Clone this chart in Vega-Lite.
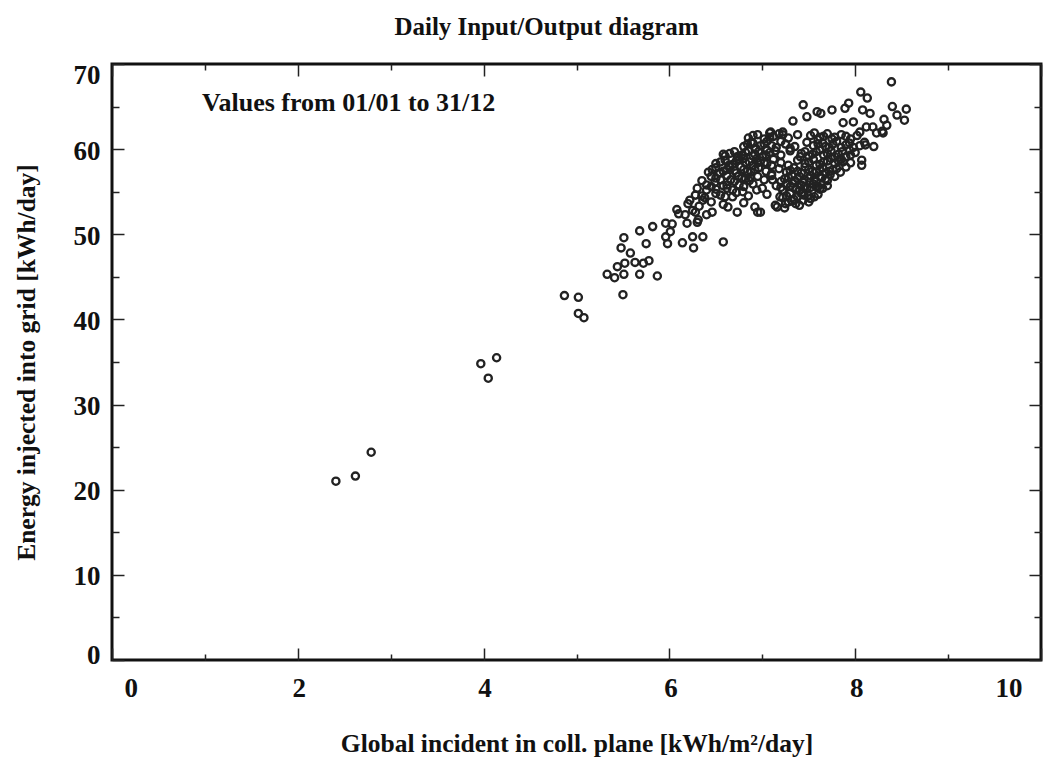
{
"$schema": "https://vega.github.io/schema/vega-lite/v6.json",
"width": 929, "height": 596,
"autosize": {"type": "none"},
"padding": {"left": 112, "top": 64, "right": 14, "bottom": 100},
"background": "white",
"title": {"text": "Daily Input/Output diagram", "font": "Liberation Serif", "fontSize": 25, "fontWeight": "bold", "color": "#111", "anchor": "middle", "dx": -30, "offset": 21},
"config": {
  "view": {"stroke": "#111", "strokeWidth": 3},
  "axis": {"domain": false, "grid": false, "labelFont": "Liberation Serif", "labelFontWeight": "bold", "labelFontSize": 27, "labelColor": "#111", "titleFont": "Liberation Serif", "titleFontWeight": "bold", "titleFontSize": 25.5, "titleColor": "#111", "tickColor": "#222", "tickWidth": 1.5}
},
"data": {"values": [
{"global":2.41,"energy":21.0},{"global":2.62,"energy":21.6},{"global":2.79,"energy":24.4},{"global":3.97,"energy":34.8},{"global":4.05,"energy":33.1},{"global":4.14,"energy":35.5},{"global":4.87,"energy":42.8},{"global":5.02,"energy":42.6},{"global":5.02,"energy":40.7},{"global":5.08,"energy":40.2},
{"global":5.50,"energy":42.9},{"global":5.33,"energy":45.3},{"global":5.41,"energy":44.9},{"global":5.44,"energy":46.2},{"global":5.51,"energy":45.3},{"global":5.52,"energy":46.6},{"global":5.68,"energy":45.3},{"global":5.87,"energy":45.1},{"global":5.63,"energy":46.7},{"global":5.72,"energy":46.6},
{"global":5.78,"energy":46.9},{"global":5.48,"energy":48.4},{"global":5.58,"energy":47.8},{"global":5.51,"energy":49.6},{"global":5.68,"energy":50.4},{"global":5.75,"energy":48.9},{"global":5.82,"energy":50.9},{"global":5.96,"energy":51.3},{"global":6.03,"energy":51.2},{"global":6.01,"energy":50.3},
{"global":5.96,"energy":49.7},{"global":5.98,"energy":48.9},{"global":6.08,"energy":52.9},{"global":6.17,"energy":52.3},{"global":6.19,"energy":51.3},{"global":6.30,"energy":51.4},{"global":6.28,"energy":52.6},{"global":6.14,"energy":49.0},{"global":6.25,"energy":49.7},{"global":6.26,"energy":48.4},
{"global":6.36,"energy":49.7},{"global":6.58,"energy":49.1},{"global":6.58,"energy":59.4},{"global":6.22,"energy":54.0},{"global":6.31,"energy":51.7},{"global":6.36,"energy":54.0},{"global":6.40,"energy":55.2},{"global":6.46,"energy":52.6},{"global":6.49,"energy":56.1},{"global":6.54,"energy":57.2},
{"global":6.62,"energy":55.8},{"global":6.63,"energy":53.2},{"global":6.73,"energy":52.6},{"global":6.68,"energy":54.4},{"global":6.73,"energy":59.1},{"global":6.79,"energy":55.0},{"global":6.87,"energy":56.7},{"global":6.92,"energy":53.2},{"global":6.95,"energy":52.6},{"global":6.94,"energy":55.2},
{"global":6.95,"energy":58.4},{"global":6.90,"energy":60.7},{"global":7.05,"energy":59.9},{"global":7.08,"energy":61.9},{"global":7.11,"energy":56.4},{"global":7.14,"energy":53.4},{"global":6.98,"energy":52.6},{"global":7.16,"energy":53.2},{"global":7.24,"energy":53.1},{"global":7.60,"energy":55.6},
{"global":7.73,"energy":57.0},{"global":7.84,"energy":57.3},{"global":7.87,"energy":58.5},{"global":8.07,"energy":58.7},{"global":8.07,"energy":58.1},{"global":8.11,"energy":60.5},{"global":7.94,"energy":59.9},{"global":8.23,"energy":61.9},{"global":8.30,"energy":61.9},{"global":7.62,"energy":61.4},
{"global":7.41,"energy":59.1},{"global":7.33,"energy":56.0},{"global":7.44,"energy":54.9},{"global":7.19,"energy":54.4},{"global":8.39,"energy":67.9},{"global":8.06,"energy":66.7},{"global":8.13,"energy":66.0},{"global":7.44,"energy":65.2},{"global":7.48,"energy":63.8},{"global":7.33,"energy":63.3},
{"global":7.63,"energy":64.2},{"global":7.75,"energy":64.6},{"global":7.89,"energy":64.8},{"global":7.93,"energy":65.4},{"global":8.08,"energy":64.6},{"global":8.16,"energy":64.2},{"global":8.40,"energy":65.0},{"global":8.55,"energy":64.7},{"global":8.45,"energy":64.0},{"global":8.53,"energy":63.4},
{"global":8.31,"energy":63.5},{"global":8.34,"energy":62.8},{"global":8.29,"energy":62.1},{"global":8.19,"energy":62.6},{"global":8.12,"energy":62.6},{"global":8.05,"energy":62.0},{"global":7.87,"energy":63.1},{"global":7.98,"energy":63.2},{"global":7.59,"energy":64.4},{"global":7.09,"energy":62.0},
{"global":7.22,"energy":62.0},{"global":7.38,"energy":61.7},
{"global":6.85,"energy":61.3},{"global":6.95,"energy":61.7},{"global":7.02,"energy":61.2},{"global":7.12,"energy":61.5},{"global":7.18,"energy":61.8},{"global":7.28,"energy":61.3},{"global":7.52,"energy":61.6},{"global":7.60,"energy":61.1},{"global":7.70,"energy":61.8},{"global":7.78,"energy":61.4},{"global":7.85,"energy":61.7},{"global":7.95,"energy":61.2},{"global":8.02,"energy":61.6},
{"global":6.80,"energy":60.3},{"global":6.88,"energy":60.8},{"global":6.98,"energy":60.4},{"global":7.05,"energy":60.9},{"global":7.15,"energy":60.2},{"global":7.25,"energy":60.6},{"global":7.35,"energy":60.3},{"global":7.48,"energy":60.8},{"global":7.55,"energy":60.4},{"global":7.65,"energy":60.7},{"global":7.72,"energy":60.2},{"global":7.80,"energy":60.9},{"global":7.90,"energy":60.5},{"global":7.98,"energy":60.2},{"global":8.10,"energy":60.8},{"global":8.20,"energy":60.3},
{"global":6.60,"energy":59.2},{"global":6.70,"energy":59.7},{"global":6.78,"energy":59.3},{"global":6.85,"energy":59.8},{"global":6.92,"energy":59.4},{"global":7.00,"energy":59.1},{"global":7.08,"energy":59.6},{"global":7.20,"energy":59.3},{"global":7.30,"energy":59.8},{"global":7.42,"energy":59.5},{"global":7.50,"energy":59.2},{"global":7.58,"energy":59.7},{"global":7.66,"energy":59.3},{"global":7.74,"energy":59.8},{"global":7.82,"energy":59.4},{"global":7.90,"energy":59.1},{"global":8.00,"energy":59.6},
{"global":6.50,"energy":58.3},{"global":6.60,"energy":58.7},{"global":6.68,"energy":58.2},{"global":6.75,"energy":58.8},{"global":6.82,"energy":58.4},{"global":6.90,"energy":58.1},{"global":6.98,"energy":58.6},{"global":7.05,"energy":58.3},{"global":7.12,"energy":58.8},{"global":7.20,"energy":58.4},{"global":7.28,"energy":58.1},{"global":7.38,"energy":58.7},{"global":7.46,"energy":58.3},{"global":7.55,"energy":58.8},{"global":7.62,"energy":58.2},{"global":7.70,"energy":58.6},{"global":7.78,"energy":58.3},{"global":7.85,"energy":58.8},{"global":7.95,"energy":58.4},
{"global":6.42,"energy":57.3},{"global":6.50,"energy":57.8},{"global":6.58,"energy":57.4},{"global":6.65,"energy":57.9},{"global":6.72,"energy":57.2},{"global":6.80,"energy":57.6},{"global":6.88,"energy":57.3},{"global":6.96,"energy":57.8},{"global":7.04,"energy":57.4},{"global":7.10,"energy":57.1},{"global":7.18,"energy":57.7},{"global":7.26,"energy":57.3},{"global":7.34,"energy":57.8},{"global":7.42,"energy":57.2},{"global":7.50,"energy":57.6},{"global":7.58,"energy":57.3},{"global":7.65,"energy":57.8},{"global":7.72,"energy":57.4},{"global":7.80,"energy":57.7},{"global":7.90,"energy":57.9},
{"global":6.35,"energy":56.3},{"global":6.45,"energy":56.8},{"global":6.55,"energy":56.4},{"global":6.62,"energy":56.9},{"global":6.70,"energy":56.2},{"global":6.78,"energy":56.6},{"global":6.86,"energy":56.3},{"global":6.95,"energy":56.8},{"global":7.02,"energy":56.4},{"global":7.10,"energy":56.9},{"global":7.20,"energy":56.2},{"global":7.28,"energy":56.7},{"global":7.35,"energy":56.3},{"global":7.40,"energy":56.8},{"global":7.45,"energy":56.4},{"global":7.52,"energy":56.9},{"global":7.58,"energy":56.2},{"global":7.64,"energy":56.6},{"global":7.70,"energy":56.3},{"global":7.78,"energy":56.8},
{"global":6.30,"energy":55.4},{"global":6.40,"energy":55.8},{"global":6.50,"energy":55.3},{"global":6.58,"energy":55.7},{"global":6.68,"energy":55.2},{"global":6.80,"energy":55.6},{"global":6.90,"energy":55.9},{"global":7.00,"energy":55.4},{"global":7.15,"energy":55.7},{"global":7.22,"energy":55.2},{"global":7.30,"energy":55.6},{"global":7.36,"energy":55.3},{"global":7.42,"energy":55.8},{"global":7.48,"energy":55.4},{"global":7.55,"energy":55.9},{"global":7.62,"energy":55.3},{"global":7.70,"energy":55.7},
{"global":6.28,"energy":54.6},{"global":6.38,"energy":54.3},{"global":6.50,"energy":54.8},{"global":6.60,"energy":54.4},{"global":6.72,"energy":54.9},{"global":6.85,"energy":54.5},{"global":7.05,"energy":54.7},{"global":7.22,"energy":54.3},{"global":7.30,"energy":54.8},{"global":7.38,"energy":54.4},{"global":7.45,"energy":54.6},{"global":7.52,"energy":54.2},{"global":7.60,"energy":54.7},
{"global":6.20,"energy":53.6},{"global":6.32,"energy":53.3},{"global":6.45,"energy":53.8},{"global":6.58,"energy":53.5},{"global":6.80,"energy":53.7},{"global":7.25,"energy":53.6},{"global":7.32,"energy":53.9},{"global":7.40,"energy":53.4},{"global":7.50,"energy":53.8},
{"global":6.10,"energy":52.4},{"global":6.25,"energy":52.8},{"global":6.40,"energy":52.3},
{"global":6.90,"energy":61.6},{"global":7.08,"energy":61.4},{"global":7.22,"energy":61.7},{"global":7.56,"energy":61.9},{"global":7.66,"energy":61.5},{"global":7.75,"energy":61.2},{"global":7.90,"energy":61.5},
{"global":6.84,"energy":60.6},{"global":6.93,"energy":60.1},{"global":7.02,"energy":60.6},{"global":7.10,"energy":60.4},{"global":7.20,"energy":60.9},{"global":7.30,"energy":60.1},{"global":7.60,"energy":60.6},{"global":7.68,"energy":60.3},{"global":7.76,"energy":60.6},{"global":7.85,"energy":60.2},{"global":7.94,"energy":60.7},{"global":8.05,"energy":60.4},
{"global":6.65,"energy":59.5},{"global":6.74,"energy":59.1},{"global":6.82,"energy":59.6},{"global":6.90,"energy":59.2},{"global":6.96,"energy":59.7},{"global":7.04,"energy":59.3},{"global":7.14,"energy":59.8},{"global":7.46,"energy":59.7},{"global":7.54,"energy":59.4},{"global":7.62,"energy":59.9},{"global":7.70,"energy":59.5},{"global":7.78,"energy":59.1},{"global":7.86,"energy":59.7},{"global":7.95,"energy":59.3},
{"global":6.55,"energy":58.5},{"global":6.64,"energy":58.1},{"global":6.72,"energy":58.6},{"global":6.80,"energy":58.9},{"global":6.86,"energy":58.5},{"global":6.94,"energy":58.9},{"global":7.02,"energy":58.4},{"global":7.10,"energy":58.1},{"global":7.50,"energy":58.5},{"global":7.58,"energy":58.1},{"global":7.66,"energy":58.5},{"global":7.74,"energy":58.9},{"global":7.82,"energy":58.6},
{"global":6.46,"energy":57.6},{"global":6.54,"energy":57.2},{"global":6.62,"energy":57.6},{"global":6.70,"energy":57.5},{"global":6.77,"energy":57.9},{"global":6.84,"energy":57.4},{"global":6.92,"energy":57.6},{"global":7.30,"energy":57.5},{"global":7.38,"energy":57.4},{"global":7.46,"energy":57.9},{"global":7.54,"energy":57.4},{"global":7.62,"energy":57.6},{"global":7.68,"energy":57.2},{"global":7.76,"energy":57.6},
{"global":6.50,"energy":56.6},{"global":6.66,"energy":56.4},{"global":6.74,"energy":56.8},{"global":6.82,"energy":56.5},{"global":7.24,"energy":56.5},{"global":7.32,"energy":56.9},{"global":7.38,"energy":56.5},{"global":7.44,"energy":56.1},{"global":7.50,"energy":56.6},{"global":7.56,"energy":56.5},{"global":7.62,"energy":56.8},{"global":7.68,"energy":56.5},
{"global":6.45,"energy":55.6},{"global":6.62,"energy":55.4},{"global":6.75,"energy":55.8},{"global":7.20,"energy":55.5},{"global":7.26,"energy":55.9},{"global":7.33,"energy":55.5},{"global":7.40,"energy":55.1},{"global":7.46,"energy":55.6},{"global":7.52,"energy":55.5},{"global":7.58,"energy":55.6},{"global":7.65,"energy":55.4},
{"global":6.35,"energy":54.5},{"global":6.55,"energy":54.6},{"global":7.26,"energy":54.5},{"global":7.34,"energy":54.1},{"global":7.42,"energy":54.8},{"global":7.50,"energy":54.5},{"global":7.56,"energy":54.4},
{"global":7.28,"energy":53.8},{"global":7.36,"energy":53.6},{"global":7.44,"energy":54.0}
]},
"layer": [
  {
    "mark": {"type": "point", "shape": "circle", "filled": false, "size": 52, "strokeWidth": 2.3, "color": "#222", "opacity": 1},
    "encoding": {
      "x": {"field": "global", "type": "quantitative", "scale": {"domain": [0, 10], "nice": false, "zero": true},
        "axis": {"orient": "bottom", "values": [0,1,2,3,4,5,6,7,8,9,10], "labelExpr": "datum.value % 2 === 0 ? datum.label : ''",
          "labelOffset": {"condition": [{"test": "datum.value === 0", "value": 12}, {"test": "datum.value === 10", "value": -19}], "value": 1},
          "tickSize": {"condition": {"test": "datum.value % 2 === 0", "value": -12}, "value": -6}, "labelPadding": 27,
          "title": "Global incident in coll. plane [kWh/m²/day]", "titlePadding": 30}},
      "y": {"field": "energy", "type": "quantitative", "scale": {"domain": [0, 70], "nice": false, "zero": true},
        "axis": {"orient": "left", "values": [0,5,10,15,20,25,30,35,40,45,50,55,60,65,70], "labelExpr": "datum.value % 10 === 0 ? datum.label : ''",
          "labelOffset": {"condition": [{"test": "datum.value === 70", "value": 11}, {"test": "datum.value === 0", "value": -5}], "value": 2},
          "tickSize": {"condition": {"test": "datum.value % 10 === 0", "value": -12}, "value": -7}, "labelPadding": 24,
          "title": "Energy injected into grid [kWh/day]", "titlePadding": 34}}
    }
  },
  {
    "data": {"values": [{"label": "Values from 01/01 to 31/12"}]},
    "mark": {"type": "text", "align": "left", "baseline": "middle", "font": "Liberation Serif", "fontWeight": "bold", "fontSize": 26, "color": "#111"},
    "encoding": {
      "text": {"field": "label"},
      "x": {"datum": 0.97, "type": "quantitative",
        "axis": {"orient": "top", "values": [0,1,2,3,4,5,6,7,8,9,10], "labels": false, "title": null,
          "tickSize": {"condition": {"test": "datum.value % 2 === 0", "value": -12}, "value": -6}}},
      "y": {"datum": 65.4, "type": "quantitative",
        "axis": {"orient": "right", "values": [0,5,10,15,20,25,30,35,40,45,50,55,60,65,70], "labels": false, "title": null,
          "tickSize": {"condition": {"test": "datum.value % 10 === 0", "value": -12}, "value": -7}}}
    }
  }
],
"resolve": {"axis": {"x": "independent", "y": "independent"}}
}
